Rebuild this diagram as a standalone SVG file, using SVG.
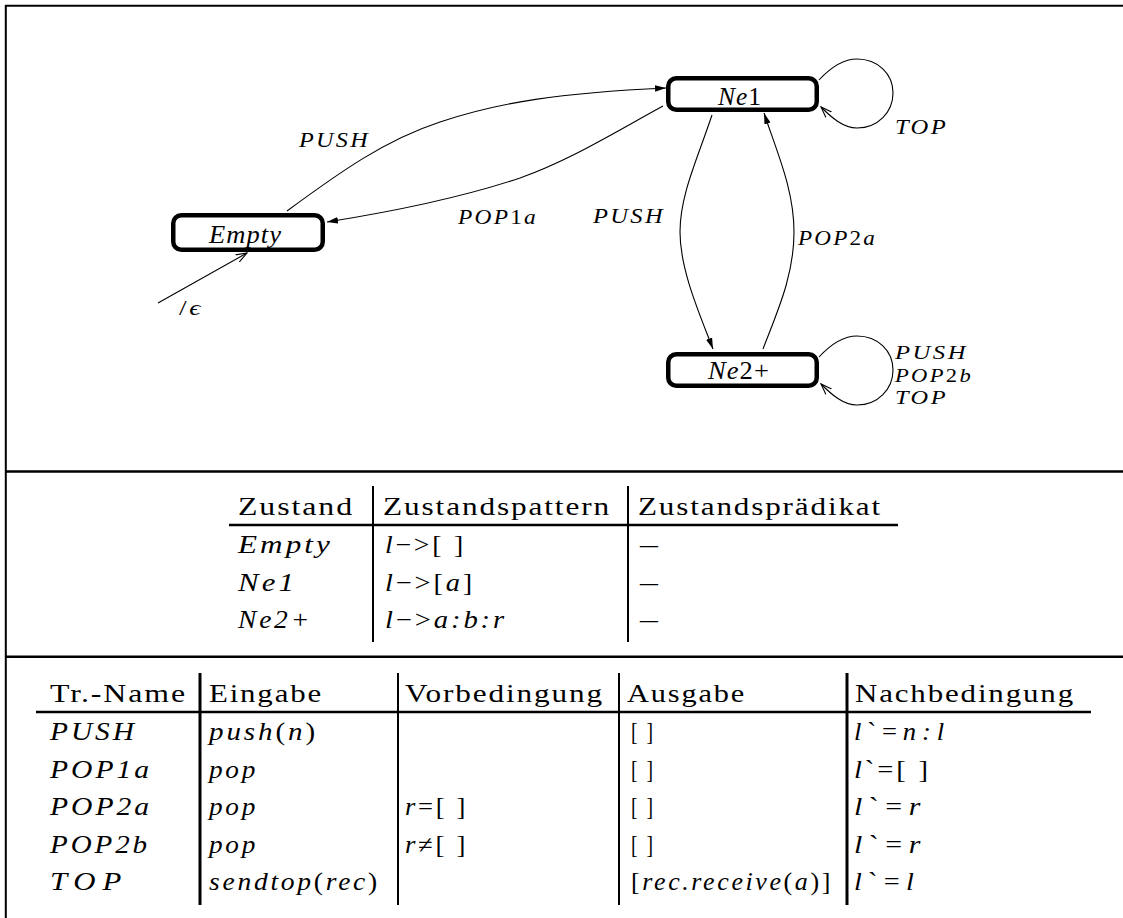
<svg xmlns="http://www.w3.org/2000/svg" width="1123" height="918" viewBox="0 0 1123 918">
<style>
text { font-family: "Liberation Serif", "DejaVu Serif", serif; fill: #000; }
.up { font-style: normal; }
.lbl { font-size: 21px; font-style: italic; letter-spacing: 2px; }
.stk { font-size: 19.5px; font-style: italic; letter-spacing: 2px; }
.nd { font-size: 25px; font-style: italic; letter-spacing: 1px; }
.tb { font-size: 25px; letter-spacing: 1.5px; }
.m { letter-spacing: 2.5px; }
.m2 { letter-spacing: 5.5px; }
.it { font-style: italic; }
.box { fill: #fff; stroke: #000; stroke-width: 4.5; }
.edge { fill: none; stroke: #000; stroke-width: 1.1; }
.frame { fill: none; stroke: #000; stroke-width: 2; }
.sep { stroke: #000; stroke-width: 2.6; }
.vl { stroke: #000; stroke-width: 2; }
.vlt { stroke: #000; stroke-width: 3; }
</style>
<defs>
<marker id="fa" markerUnits="userSpaceOnUse" markerWidth="12" markerHeight="8" refX="11" refY="4" orient="auto"><path d="M0,0.8 L11,4 L0,7.2 z" fill="#000"/></marker>
<marker id="oa" markerUnits="userSpaceOnUse" markerWidth="12" markerHeight="10" refX="11" refY="5" orient="auto"><path d="M0,1 L11,5 L0,9" fill="none" stroke="#000" stroke-width="1.1"/></marker>
</defs>
<rect width="1123" height="918" fill="#fff"/>

<g id="frame">
<path class="frame" d="M5.8,918 L5.8,5.8 L1123,5.8"/>
<line class="sep" x1="5" y1="471.5" x2="1123" y2="471.5"/>
<line class="sep" x1="5" y1="656.8" x2="1123" y2="656.8"/>
</g>

<g id="connectors">
<path class="edge" d="M158,303 L247,253" marker-end="url(#oa)"/>
<path class="edge" d="M287,211 C340,172 385,140 440,122 C500,102 560,93 666,88" marker-end="url(#fa)"/>
<path class="edge" d="M663,106 C610,135 570,160 520,178 C460,198 390,212 327,222" marker-end="url(#fa)"/>
<path class="edge" d="M712,115 C697,160 680,195 680,232 C680,270 700,315 713,349" marker-end="url(#fa)"/>
<path class="edge" d="M763,349 C778,310 794,275 794,232 C794,190 778,155 764,113" marker-end="url(#fa)"/>
<path class="edge" d="M819,80 C832,66 845,59 857,59 C878,59 893,74 893,93 C893,112 878,128 857,128 C843,128 831,117 821,107" marker-end="url(#oa)"/>
<path class="edge" d="M819,357 C832,343 845,336 857,336 C878,336 893,351 893,370 C893,389 878,405 857,405 C843,405 831,394 821,384" marker-end="url(#oa)"/>
</g>

<g id="edge-labels">
<text class="lbl" x="179" y="315" textLength="24" lengthAdjust="spacingAndGlyphs"><tspan class="up">/</tspan>ϵ</text>
<text class="lbl" x="299" y="147" textLength="71" lengthAdjust="spacingAndGlyphs">PUSH</text>
<text class="lbl" x="458" y="224" textLength="80" lengthAdjust="spacingAndGlyphs">POP<tspan class="up">1</tspan>a</text>
<text class="lbl" x="593" y="223" textLength="72" lengthAdjust="spacingAndGlyphs">PUSH</text>
<text class="lbl" x="798" y="245" textLength="79" lengthAdjust="spacingAndGlyphs">POP<tspan class="up">2</tspan>a</text>
<text class="lbl" x="895" y="134" textLength="53" lengthAdjust="spacingAndGlyphs">TOP</text>
<text class="stk" x="895" y="359" textLength="73" lengthAdjust="spacingAndGlyphs">PUSH</text>
<text class="stk" x="895" y="381.5" textLength="78" lengthAdjust="spacingAndGlyphs">POP<tspan class="up">2</tspan>b</text>
<text class="stk" x="895" y="404" textLength="53" lengthAdjust="spacingAndGlyphs">TOP</text>
</g>

<g id="node-empty">
<rect class="box" x="173.25" y="215.25" width="149.5" height="34.5" rx="8"/>
<text class="nd" x="209" y="243" textLength="73" lengthAdjust="spacingAndGlyphs">Empty</text>
</g>
<g id="node-ne1">
<rect class="box" x="668.25" y="78.25" width="148.5" height="31.5" rx="8"/>
<text class="nd" x="718" y="105" textLength="44" lengthAdjust="spacingAndGlyphs">Ne<tspan class="up">1</tspan></text>
</g>
<g id="node-ne2">
<rect class="box" x="668.25" y="354.25" width="148.5" height="31.5" rx="8"/>
<text class="nd" x="708" y="379" textLength="62" lengthAdjust="spacingAndGlyphs">Ne<tspan class="up">2+</tspan></text>
</g>

<g id="state-table">
<line class="vl" x1="373" y1="486" x2="373" y2="642"/>
<line class="vl" x1="628" y1="486" x2="628" y2="642"/>
<line class="sep" x1="229" y1="525" x2="898" y2="525"/>
<text class="tb" x="238" y="515" textLength="116" lengthAdjust="spacingAndGlyphs">Zustand</text>
<text class="tb" x="383" y="515" textLength="228" lengthAdjust="spacingAndGlyphs">Zustandspattern</text>
<text class="tb" x="638" y="515" textLength="244" lengthAdjust="spacingAndGlyphs">Zustandsprädikat</text>
<text class="tb it m" x="238" y="553" textLength="95" lengthAdjust="spacingAndGlyphs">Empty</text>
<text class="tb it m" x="238" y="590.5" textLength="59" lengthAdjust="spacingAndGlyphs">Ne1</text>
<text class="tb it m" x="238" y="628" textLength="74" lengthAdjust="spacingAndGlyphs">Ne2+</text>
<text class="tb it m" x="385" y="553" textLength="81" lengthAdjust="spacingAndGlyphs">l<tspan class="up">−&gt;[ ]</tspan></text>
<text class="tb it m" x="385" y="590.5" textLength="90" lengthAdjust="spacingAndGlyphs">l<tspan class="up">−&gt;[</tspan>a<tspan class="up">]</tspan></text>
<text class="tb it m" x="385" y="628" textLength="122" lengthAdjust="spacingAndGlyphs">l<tspan class="up">−&gt;</tspan>a:b:r</text>
<text class="tb" x="640" y="553" textLength="20" lengthAdjust="spacingAndGlyphs">–</text>
<text class="tb" x="640" y="590.5" textLength="20" lengthAdjust="spacingAndGlyphs">–</text>
<text class="tb" x="640" y="628" textLength="20" lengthAdjust="spacingAndGlyphs">–</text>
</g>

<g id="transition-table">
<line class="vlt" x1="200" y1="673" x2="200" y2="905"/>
<line class="vl" x1="398" y1="673" x2="398" y2="905"/>
<line class="vl" x1="619" y1="673" x2="619" y2="905"/>
<line class="vlt" x1="847" y1="673" x2="847" y2="905"/>
<line class="sep" x1="36" y1="712" x2="1091" y2="712"/>
<text class="tb" x="50" y="702" textLength="137" lengthAdjust="spacingAndGlyphs">Tr.-Name</text>
<text class="tb" x="209" y="702" textLength="114" lengthAdjust="spacingAndGlyphs">Eingabe</text>
<text class="tb" x="405" y="702" textLength="199" lengthAdjust="spacingAndGlyphs">Vorbedingung</text>
<text class="tb" x="627" y="702" textLength="119" lengthAdjust="spacingAndGlyphs">Ausgabe</text>
<text class="tb" x="855" y="702" textLength="220" lengthAdjust="spacingAndGlyphs">Nachbedingung</text>

<text class="tb it m" x="50" y="740" textLength="87" lengthAdjust="spacingAndGlyphs">PUSH</text>
<text class="tb it m" x="50" y="777.5" textLength="102" lengthAdjust="spacingAndGlyphs">POP1a</text>
<text class="tb it m" x="50" y="815" textLength="102" lengthAdjust="spacingAndGlyphs">POP2a</text>
<text class="tb it m" x="50" y="852.5" textLength="100" lengthAdjust="spacingAndGlyphs">POP2b</text>
<text class="tb it m2" x="50" y="890" textLength="78" lengthAdjust="spacingAndGlyphs">TOP</text>

<text class="tb it m" x="209" y="740" textLength="109" lengthAdjust="spacingAndGlyphs">push<tspan class="up">(</tspan>n<tspan class="up">)</tspan></text>
<text class="tb it m" x="209" y="777.5" textLength="49" lengthAdjust="spacingAndGlyphs">pop</text>
<text class="tb it m" x="209" y="815" textLength="49" lengthAdjust="spacingAndGlyphs">pop</text>
<text class="tb it m" x="209" y="852.5" textLength="49" lengthAdjust="spacingAndGlyphs">pop</text>
<text class="tb it m" x="209" y="890" textLength="171" lengthAdjust="spacingAndGlyphs">sendtop<tspan class="up">(</tspan>rec<tspan class="up">)</tspan></text>

<text class="tb it m" x="405" y="815" textLength="63" lengthAdjust="spacingAndGlyphs">r<tspan class="up">=[ ]</tspan></text>
<text class="tb it m" x="405" y="852.5" textLength="63" lengthAdjust="spacingAndGlyphs">r<tspan class="up">≠[ ]</tspan></text>

<text class="tb m" x="631" y="740" textLength="24" lengthAdjust="spacingAndGlyphs">[ ]</text>
<text class="tb m" x="631" y="777.5" textLength="24" lengthAdjust="spacingAndGlyphs">[ ]</text>
<text class="tb m" x="631" y="815" textLength="24" lengthAdjust="spacingAndGlyphs">[ ]</text>
<text class="tb m" x="631" y="852.5" textLength="24" lengthAdjust="spacingAndGlyphs">[ ]</text>
<text class="tb m" x="631" y="890" textLength="202" lengthAdjust="spacingAndGlyphs">[<tspan class="it">rec.receive</tspan>(<tspan class="it">a</tspan>)]</text>

<text class="tb it m2" x="854" y="740" textLength="96" lengthAdjust="spacingAndGlyphs">l<tspan class="up">`=</tspan>n:l</text>
<text class="tb it m" x="854" y="777.5" textLength="77" lengthAdjust="spacingAndGlyphs">l<tspan class="up">`=[ ]</tspan></text>
<text class="tb it m2" x="854" y="815" textLength="73" lengthAdjust="spacingAndGlyphs">l<tspan class="up">`=</tspan>r</text>
<text class="tb it m2" x="854" y="852.5" textLength="73" lengthAdjust="spacingAndGlyphs">l<tspan class="up">`=</tspan>r</text>
<text class="tb it m2" x="854" y="890" textLength="66" lengthAdjust="spacingAndGlyphs">l<tspan class="up">`=</tspan>l</text>
</g>
</svg>
